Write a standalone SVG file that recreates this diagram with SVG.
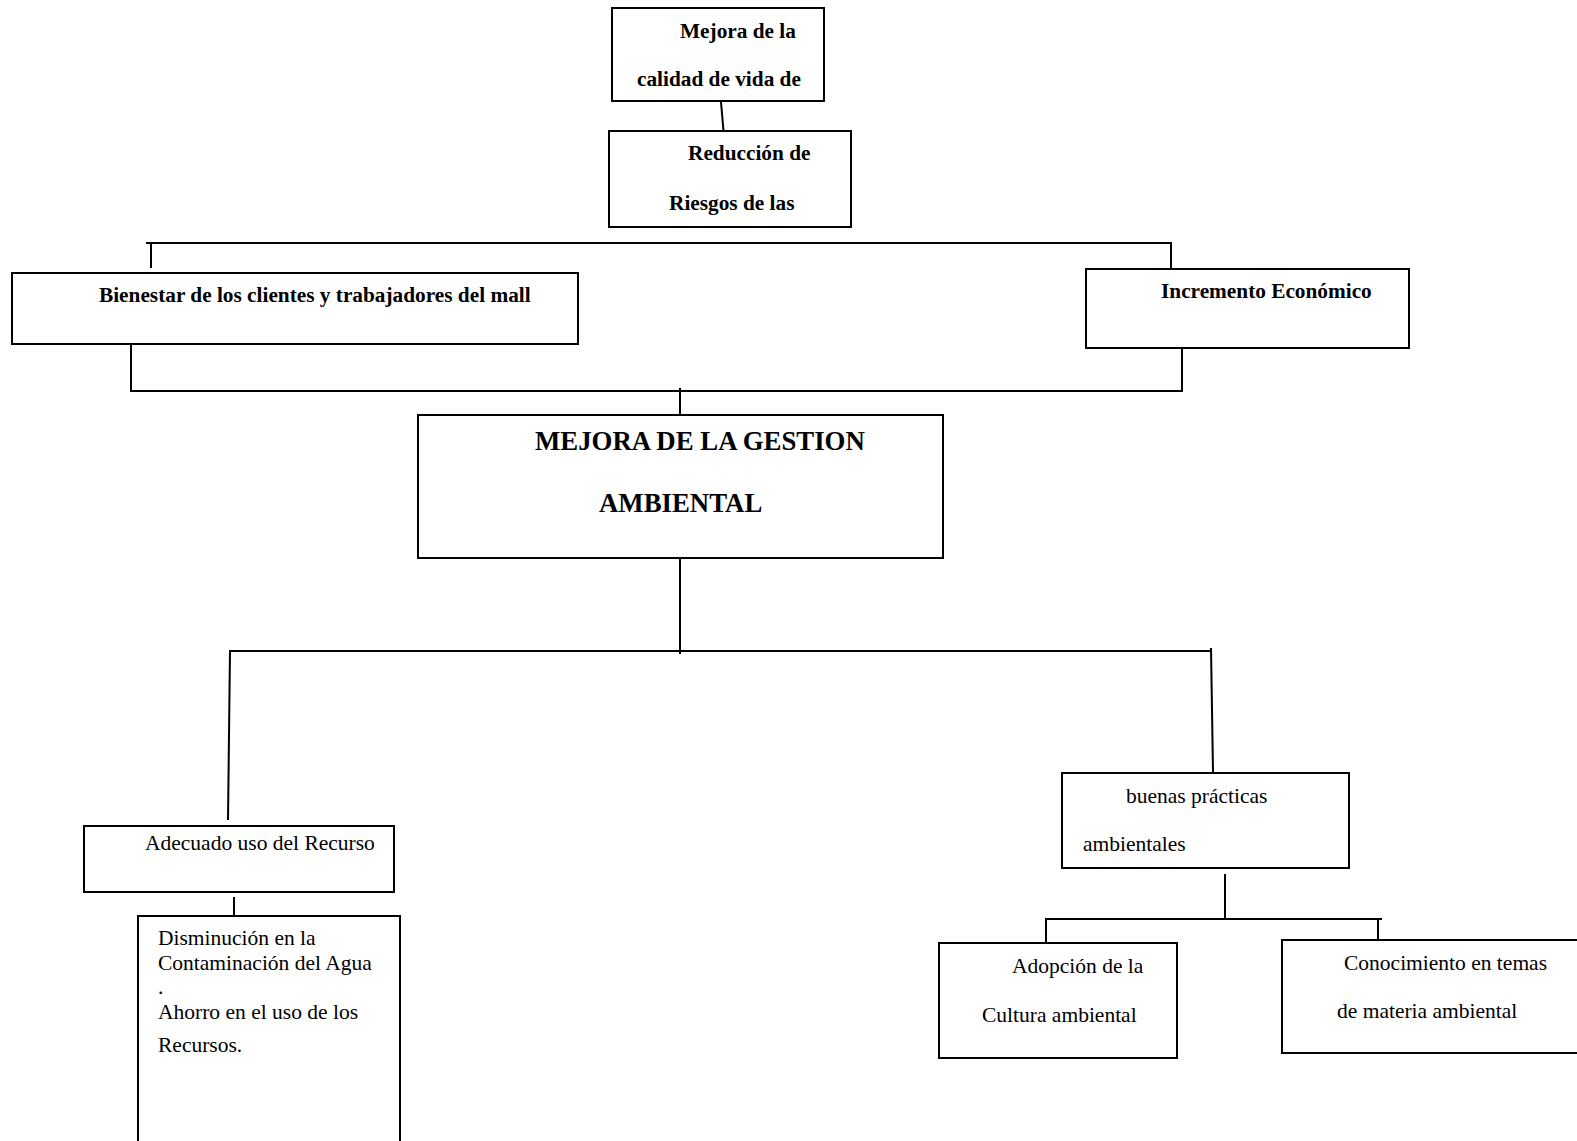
<svg xmlns="http://www.w3.org/2000/svg" width="1577" height="1141" viewBox="0 0 1577 1141">
<style>
.box{fill:#fff;stroke:#000;stroke-width:2}
.ln{fill:none;stroke:#000;stroke-width:2}
.b{font-family:"Liberation Serif","Times New Roman",serif;font-weight:bold;font-size:21.3px;fill:#000}
.big{font-family:"Liberation Serif","Times New Roman",serif;font-weight:bold;font-size:26.8px;fill:#000}
.r{font-family:"Liberation Serif","Times New Roman",serif;font-size:21.5px;fill:#000}
</style>
<rect width="1577" height="1141" fill="#fff"/>
<g id="connectors">
<line class="ln" x1="721" y1="102" x2="724" y2="137"/>
<polyline class="ln" points="151,268 151,243 1171,243 1171,268"/>
<line class="ln" x1="146" y1="243" x2="151" y2="243"/>
<polyline class="ln" points="131,345 131,391 1182,391 1182,349"/>
<line class="ln" x1="680" y1="388" x2="680" y2="415"/>
<line class="ln" x1="680" y1="558" x2="680" y2="654"/>
<line class="ln" x1="229" y1="651" x2="1211" y2="651"/>
<line class="ln" x1="230" y1="651" x2="228" y2="820"/>
<line class="ln" x1="1211" y1="648" x2="1213" y2="772"/>
<line class="ln" x1="234" y1="897" x2="234" y2="916"/>
<line class="ln" x1="1225" y1="874" x2="1225" y2="919"/>
<polyline class="ln" points="1046,943 1046,919 1382,919"/>
<line class="ln" x1="1378" y1="919" x2="1378" y2="945"/>
</g>
<g id="n1"><rect class="box" x="612" y="8" width="212" height="93"/>
<text class="b" x="680" y="38">Mejora de la</text>
<text class="b" x="637" y="86">calidad de vida de</text></g>
<g id="n2"><rect class="box" x="609" y="131" width="242" height="96"/>
<text class="b" x="688" y="160">Reducción de</text>
<text class="b" x="669" y="210">Riesgos de las</text></g>
<g id="n3"><rect class="box" x="12" y="273" width="566" height="71"/>
<text class="b" x="99" y="302">Bienestar de los clientes y trabajadores del mall</text></g>
<g id="n4"><rect class="box" x="1086" y="269" width="323" height="79"/>
<text class="b" x="1161" y="298">Incremento Económico</text></g>
<g id="n5"><rect class="box" x="418" y="415" width="525" height="143"/>
<text class="big" x="535" y="450">MEJORA DE LA GESTION</text>
<text class="big" x="599" y="512">AMBIENTAL</text></g>
<g id="n6"><rect class="box" x="84" y="826" width="310" height="66"/>
<text class="r" x="145" y="850">Adecuado uso del Recurso</text></g>
<g id="n7"><rect class="box" x="138" y="916" width="262" height="240"/>
<text class="r" x="158" y="945">Disminución en la</text>
<text class="r" x="158" y="970">Contaminación del Agua</text>
<text class="r" x="158" y="994">.</text>
<text class="r" x="158" y="1019">Ahorro en el uso de los</text>
<text class="r" x="158" y="1052">Recursos.</text></g>
<g id="n8"><rect class="box" x="1062" y="773" width="287" height="95"/>
<text class="r" x="1126" y="803">buenas prácticas</text>
<text class="r" x="1083" y="851">ambientales</text></g>
<g id="n9"><rect class="box" x="939" y="943" width="238" height="115"/>
<text class="r" x="1012" y="973">Adopción de la</text>
<text class="r" x="982" y="1022">Cultura ambiental</text></g>
<g id="n10"><rect class="box" x="1282" y="940" width="310" height="113"/>
<text class="r" x="1344" y="970">Conocimiento en temas</text>
<text class="r" x="1337" y="1018">de materia ambiental</text></g>
</svg>
